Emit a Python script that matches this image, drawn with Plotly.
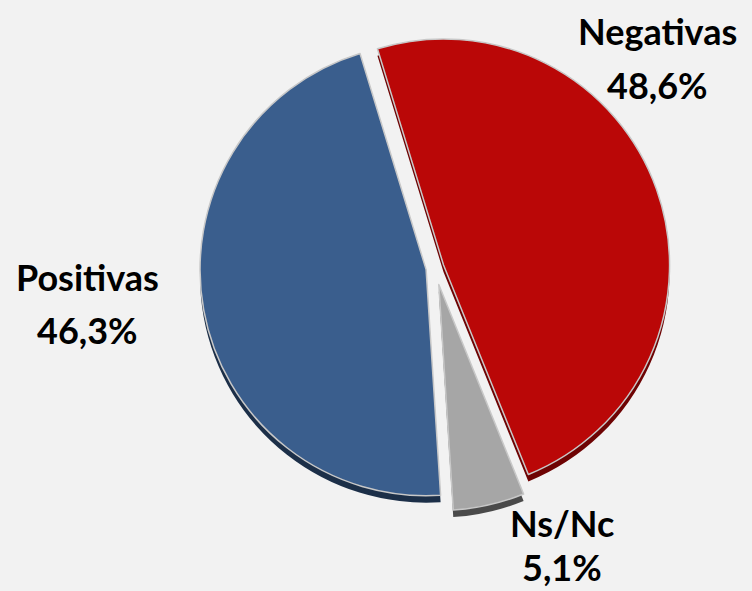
import plotly.graph_objects as go

categories = ["Negativas", "Ns/Nc", "Positivas"]
values = [48.6, 5.1, 46.3]
colors = ["#BA0707", "#A6A6A6", "#3A5E8D"]
side_colors = ["#6E0303", "#4A4A4A", "#1C2F48"]
pulls = [0.04, 0.075, 0.04]

W, H = 752, 591
cx, cy, half = 435, 268, 243
depth = 7

def dom(cx, cy):
    return dict(x=[(cx - half) / W, (cx + half) / W],
                y=[(H - cy - half) / H, (H - cy + half) / H])

fig = go.Figure()
# depth (3D side) layer
fig.add_trace(go.Pie(
    labels=categories, values=values, sort=False, direction="clockwise",
    rotation=-17, pull=pulls, textinfo="none", hoverinfo="skip",
    marker=dict(colors=side_colors, line=dict(color="#F2F2F2", width=0)),
    domain=dom(cx, cy + depth), showlegend=False))
fig.add_trace(go.Pie(
    labels=categories, values=values, sort=False, direction="clockwise",
    rotation=-17, pull=pulls, textinfo="none",
    marker=dict(colors=colors, line=dict(color="#C8C8C8", width=1.5)),
    domain=dom(cx, cy), showlegend=False))

label_pos = {"Negativas": (657, 31, 85), "Positivas": (87, 277, 330), "Ns/Nc": (562, 523, None)}
font = dict(family="Lato", size=36, color="#000000")
for cat, val in zip(categories, values):
    x, y1, y2 = label_pos[cat]
    pct = f"<b>{str(val).replace('.', ',')}%</b>"
    fig.add_annotation(x=x / W, y=1 - y1 / H, xref="paper", yref="paper",
                       text=f"<b>{cat}</b>", showarrow=False, font=font,
                       xanchor="center", yanchor="middle")
    if y2 is None:
        fig.add_annotation(x=x / W, y=0, xref="paper", yref="paper",
                           text=pct, showarrow=False, font=font,
                           xanchor="center", yanchor="bottom")
    else:
        fig.add_annotation(x=x / W, y=1 - y2 / H, xref="paper", yref="paper",
                           text=pct, showarrow=False, font=font,
                           xanchor="center", yanchor="middle")

fig.update_layout(width=W, height=H, margin=dict(l=0, r=0, t=0, b=0),
                  paper_bgcolor="#F2F2F2", plot_bgcolor="#F2F2F2", showlegend=False)
fig.write_html("out.html", config={"displayModeBar": False},
               post_script="document.body.style.margin='0px';")
